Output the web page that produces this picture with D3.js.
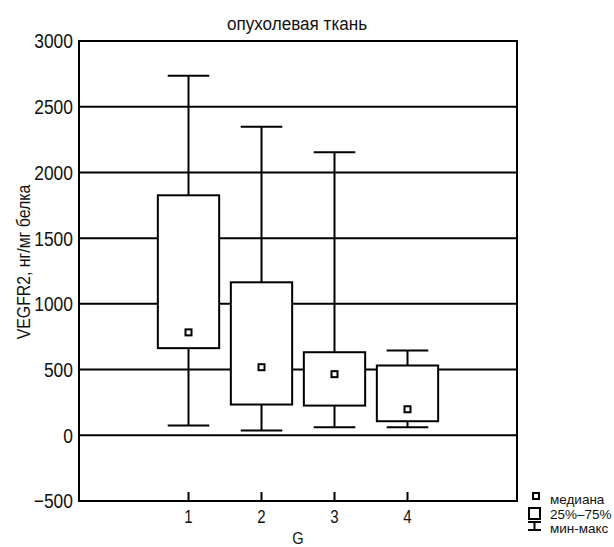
<!DOCTYPE html>
<html>
<head>
    <meta charset="utf-8">
    <title>VEGFR2</title>
    <style>
        body { margin: 0; background: white; }
        text { font-family: "Liberation Sans", Arial, sans-serif; fill: #111; }
        .line { stroke: #000; stroke-width: 2px; fill: none; }
    </style>
    <script src="https://d3js.org/d3.v7.min.js"></script>
</head>
<body>
<svg id="chart" width="614" height="547"></svg>
<script>
    // data
    var groups = [1, 2, 3, 4];
    var mins = [74, 36, 61, 61];
    var q1 = [663, 234, 226, 107];
    var medians = [783, 518, 465, 198];
    var q3 = [1826, 1164, 632, 531];
    var maxs = [2735, 2347, 2154, 645];
    var yTicks = [-500, 0, 500, 1000, 1500, 2000, 2500, 3000];

    var svg = d3.select("#chart");

    var x = d3.scaleLinear().domain([-0.5, 5.5]).range([79, 517]);
    var y = d3.scaleLinear().domain([-500, 3000]).range([501, 41]);

    var boxHalf = 0.42, capHalf = 0.285;

    // squeeze text horizontally around its own anchor point (condensed look)
    function narrow(sel, k) {
        sel.attr("transform", function () {
            var t = d3.select(this), px = +t.attr("x"), py = +t.attr("y");
            return "translate(" + px + "," + py + ") scale(" + k + ",1) translate(" + (-px) + "," + (-py) + ")";
        });
    }

    // gridlines
    svg.append("g").selectAll("line")
        .data(yTicks.filter(d => d > -500 && d < 3000))
        .join("line")
        .attr("class", "line")
        .attr("x1", x.range()[0]).attr("x2", x.range()[1])
        .attr("y1", d => y(d)).attr("y2", d => y(d));

    // frame
    svg.append("rect")
        .attr("class", "line")
        .attr("x", x.range()[0]).attr("y", y(3000))
        .attr("width", x.range()[1] - x.range()[0])
        .attr("height", y(-500) - y(3000));

    // y tick labels
    svg.append("g").selectAll("text")
        .data(yTicks)
        .join("text")
        .attr("x", x.range()[0] - 6)
        .attr("y", d => y(d) + 7.5)
        .attr("text-anchor", "end")
        .style("font-size", "20.5px")
        .text(d => d < 0 ? "\u2212" + Math.abs(d) : d)
        .call(narrow, 0.85);

    // x ticks (inside, pointing up)
    var xt = svg.append("g");
    xt.selectAll("line")
        .data(groups)
        .join("line")
        .attr("class", "line")
        .attr("x1", d => x(d)).attr("x2", d => x(d))
        .attr("y1", y(-500)).attr("y2", y(-500) - 9);
    xt.selectAll("text")
        .data(groups)
        .join("text")
        .attr("x", d => x(d))
        .attr("y", 523)
        .attr("text-anchor", "middle")
        .style("font-size", "17.5px")
        .text(d => d)
        .call(narrow, 0.86);

    // boxes
    var idx = d3.range(groups.length);
    var boxes = svg.append("g").selectAll("g").data(idx).join("g");

    boxes.append("line").attr("class", "line")
        .attr("x1", i => x(groups[i])).attr("x2", i => x(groups[i]))
        .attr("y1", i => y(maxs[i])).attr("y2", i => y(q3[i]));
    boxes.append("line").attr("class", "line")
        .attr("x1", i => x(groups[i])).attr("x2", i => x(groups[i]))
        .attr("y1", i => y(q1[i])).attr("y2", i => y(mins[i]));
    boxes.append("line").attr("class", "line")
        .attr("x1", i => x(groups[i] - capHalf)).attr("x2", i => x(groups[i] + capHalf))
        .attr("y1", i => y(maxs[i])).attr("y2", i => y(maxs[i]));
    boxes.append("line").attr("class", "line")
        .attr("x1", i => x(groups[i] - capHalf)).attr("x2", i => x(groups[i] + capHalf))
        .attr("y1", i => y(mins[i])).attr("y2", i => y(mins[i]));
    boxes.append("rect").attr("class", "line")
        .style("fill", "white")
        .attr("x", i => x(groups[i] - boxHalf))
        .attr("width", i => x(groups[i] + boxHalf) - x(groups[i] - boxHalf))
        .attr("y", i => y(q3[i]))
        .attr("height", i => y(q1[i]) - y(q3[i]));
    boxes.append("rect").attr("class", "line")
        .style("fill", "white")
        .attr("x", i => x(groups[i]) - 3)
        .attr("y", i => y(medians[i]) - 3)
        .attr("width", 6).attr("height", 6);

    // title and axis labels
    svg.append("text")
        .attr("x", 297).attr("y", 30)
        .attr("text-anchor", "middle")
        .style("font-size", "19px")
        .text("опухолевая ткань")
        .call(narrow, 0.9);

    svg.append("text")
        .attr("transform", "translate(29.5,262) rotate(-90) scale(0.88,1)")
        .attr("text-anchor", "middle")
        .style("font-size", "18px")
        .text("VEGFR2, нг/мг белка");

    svg.append("text")
        .attr("x", 298).attr("y", 544)
        .attr("text-anchor", "middle")
        .style("font-size", "17px")
        .text("G")
        .call(narrow, 0.86);

    // legend
    var lg = svg.append("g");
    lg.append("rect").attr("class", "line").style("fill", "white")
        .attr("x", 533).attr("y", 493).attr("width", 6).attr("height", 6);
    lg.append("rect").attr("class", "line").style("fill", "white")
        .attr("x", 529).attr("y", 508).attr("width", 11).attr("height", 11);
    lg.append("line").attr("class", "line").attr("x1", 528).attr("x2", 541).attr("y1", 522).attr("y2", 522);
    lg.append("line").attr("class", "line").attr("x1", 528).attr("x2", 541).attr("y1", 530).attr("y2", 530);
    lg.append("line").attr("class", "line").attr("x1", 534.5).attr("x2", 534.5).attr("y1", 522).attr("y2", 530);
    var legendTexts = ["медиана", "25%\u201375%", "мин-макс"];
    lg.selectAll("text").data(legendTexts).join("text")
        .attr("x", 550)
        .attr("y", (d, i) => 504 + i * 14.5)
        .style("font-size", "13.5px")
        .text(d => d);
</script>
</body>
</html>
